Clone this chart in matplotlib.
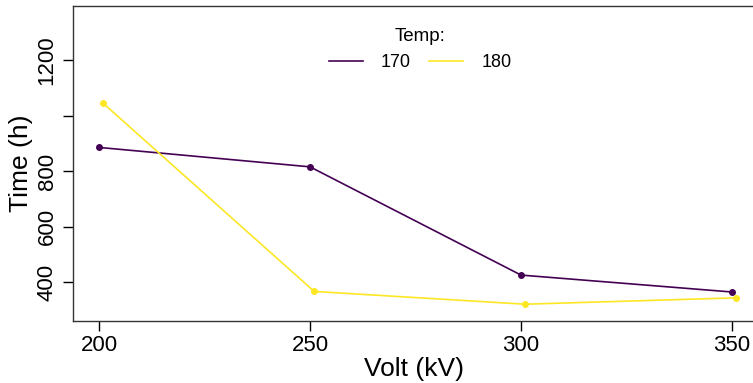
import matplotlib
matplotlib.use('Agg')
import matplotlib.pyplot as plt
import numpy as np

plt.rcParams['font.family'] = ['Liberation Sans', 'DejaVu Sans']

# data: breakdown time vs voltage, one series per temperature
volt = [200, 250, 300, 350]
time_170 = [885, 815, 425, 364]
time_180 = [1044, 366, 320, 343]
temps = ['170', '180']
colors = ['#440154', '#FDE725']
dodge = [0, 1]  # small horizontal shift so points don't overlap

W, H = 753, 383
fig = plt.figure(figsize=(W / 100, H / 100), dpi=100)
ax = fig.add_axes([73 / W, 62 / H, 682 / W, 315 / H])

for series, lab, col, dx in zip([time_170, time_180], temps, colors, dodge):
    ax.plot(np.array(volt) + dx, series, color=col, lw=1.2, marker='o',
            ms=4, label=lab)

ax.set_xlim(193.84, 355.45)
ax.set_ylim(259.5, 1394.6)

ax.set_xticks(volt)
ax.set_yticks([400, 600, 800, 1000, 1200])
ax.set_yticklabels(['400', '600', '800', '', '1200'], rotation=90, va='center')
ax.tick_params(axis='both', direction='out', length=7, width=1,
               labelsize=16, colors='black', pad=3)
ax.tick_params(axis='y', pad=4)

for side in ['left', 'bottom', 'top']:
    ax.spines[side].set_color('#333333')
    ax.spines[side].set_linewidth(1)
ax.spines['right'].set_visible(False)

ax.set_xlabel('Volt (kV)', fontsize=19, labelpad=1)
ax.set_ylabel('Time (h)', fontsize=19, labelpad=3)

leg = ax.legend(ncol=2, frameon=False, title='Temp:', fontsize=13,
                title_fontsize=13.5, loc='upper center',
                bbox_to_anchor=(420 / W, 1 - 12 / H),
                bbox_transform=fig.transFigure,
                handlelength=1.9, columnspacing=1.0, handletextpad=1.0)
for h in leg.legend_handles:
    h.set_marker('')

fig.savefig('out.png', dpi=100)
